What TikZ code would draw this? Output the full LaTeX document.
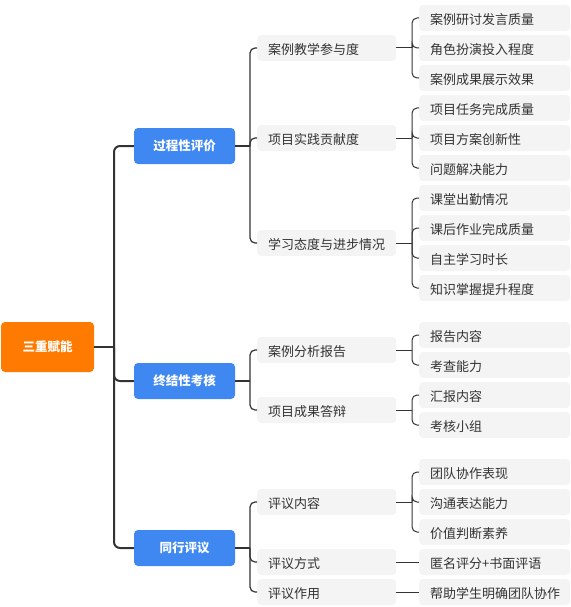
\documentclass[tikz,border=0pt]{standalone}
\usepackage{fontspec}
\setmainfont{Noto Sans CJK SC}
\definecolor{orangeC}{HTML}{FF7A00}
\definecolor{blueC}{HTML}{3F88F2}
\definecolor{grayC}{HTML}{F4F4F4}
\definecolor{txtC}{HTML}{333333}
\definecolor{lineC}{HTML}{333333}
\begin{document}
\begin{tikzpicture}[x=1pt,y=-1pt,
  base/.style={rounded corners=4pt, inner sep=0pt, font=\fontsize{13}{15}\selectfont},
  rootbox/.style={base, fill=orangeC, text=white, minimum width=93pt, minimum height=50pt, font=\fontsize{12.5}{15}\selectfont\bfseries},
  lonebox/.style={base, fill=blueC, text=white, minimum width=101pt, minimum height=36pt, font=\fontsize{12.5}{15}\selectfont\bfseries},
  ltwobox/.style={base, fill=grayC, text=txtC, anchor=west, minimum height=26pt, inner xsep=11pt, text width=117pt, align=left, text height=13.5pt, text depth=0pt},
  lthreebox/.style={base, fill=grayC, text=txtC, anchor=west, minimum height=26pt, inner xsep=11pt, text width=129pt, align=left, text height=13.5pt, text depth=0pt},
  trunk/.style={draw=lineC, line width=2pt, rounded corners=6pt},
  branch/.style={draw=lineC, line width=1.2pt, rounded corners=5pt},
  twig/.style={draw=lineC, line width=1pt, rounded corners=5pt}]
\useasboundingbox (0,0) rectangle (570,607);

% root
\node[rootbox] (root) at (47.5,347) {三重赋能};
% level 1
\node[lonebox] (pa) at (184.5,146) {过程性评价};
\node[lonebox] (pb) at (184.5,381) {终结性考核};
\node[lonebox] (pc) at (184.5,548) {同行评议};
% level 2
\node[ltwobox] (a1) at (257,48) {案例教学参与度};
\node[ltwobox] (a2) at (257,138) {项目实践贡献度};
\node[ltwobox] (a3) at (257,243) {学习态度与进步情况};
\node[ltwobox] (b1) at (257,350) {案例分析报告};
\node[ltwobox] (b2) at (257,410) {项目成果答辩};
\node[ltwobox] (c1) at (257,502) {评议内容};
\node[ltwobox] (c2) at (257,562) {评议方式};
\node[ltwobox] (c3) at (257,592) {评议作用};
% level 3
\node[lthreebox] (a11) at (419,18) {案例研讨发言质量};
\node[lthreebox] (a12) at (419,48) {角色扮演投入程度};
\node[lthreebox] (a13) at (419,78) {案例成果展示效果};
\node[lthreebox] (a21) at (419,108) {项目任务完成质量};
\node[lthreebox] (a22) at (419,138) {项目方案创新性};
\node[lthreebox] (a23) at (419,168) {问题解决能力};
\node[lthreebox] (a31) at (419,198) {课堂出勤情况};
\node[lthreebox] (a32) at (419,228) {课后作业完成质量};
\node[lthreebox] (a33) at (419,258) {自主学习时长};
\node[lthreebox] (a34) at (419,288) {知识掌握提升程度};
\node[lthreebox] (b11) at (419,335) {报告内容};
\node[lthreebox] (b12) at (419,365) {考查能力};
\node[lthreebox] (b21) at (419,395) {汇报内容};
\node[lthreebox] (b22) at (419,425) {考核小组};
\node[lthreebox] (c11) at (419,472) {团队协作表现};
\node[lthreebox] (c12) at (419,502) {沟通表达能力};
\node[lthreebox] (c13) at (419,532) {价值判断素养};
\node[lthreebox] (c21) at (419,562) {匿名评分+书面评语};
\node[lthreebox] (c31) at (419,592) {帮助学生明确团队协作};

% junctions
\coordinate (j0) at (114,347);
\coordinate (ja) at (250,146);
\coordinate (jb) at (250,381);
\coordinate (jc) at (250,548);
\coordinate (ja1) at (412,48);
\coordinate (ja2) at (412,138);
\coordinate (ja3) at (412,243);
\coordinate (jb1) at (412,350);
\coordinate (jb2) at (412,410);
\coordinate (jc1) at (412,502);

% trunk
\draw[trunk] (root.east) -- (j0);
\draw[trunk] (j0) |- (pa.west);
\draw[trunk] (j0) |- (pb.west);
\draw[trunk] (j0) |- (pc.west);
% level 1 -> level 2
\draw[branch] (pa.east) -- (ja);
\draw[branch] (ja) |- (a1.west);
\draw[branch] (ja) |- (a2.west);
\draw[branch] (ja) |- (a3.west);
\draw[branch] (pb.east) -- (jb);
\draw[branch] (jb) |- (b1.west);
\draw[branch] (jb) |- (b2.west);
\draw[branch] (pc.east) -- (jc);
\draw[branch] (jc) |- (c1.west);
\draw[branch] (jc) |- (c2.west);
\draw[branch] (jc) |- (c3.west);
% level 2 -> level 3
\draw[twig] (a1.east) -- (ja1);
\draw[twig] (ja1) |- (a11.west);
\draw[twig] (ja1) |- (a12.west);
\draw[twig] (ja1) |- (a13.west);
\draw[twig] (a2.east) -- (ja2);
\draw[twig] (ja2) |- (a21.west);
\draw[twig] (ja2) |- (a22.west);
\draw[twig] (ja2) |- (a23.west);
\draw[twig] (a3.east) -- (ja3);
\draw[twig] (ja3) |- (a31.west);
\draw[twig] (ja3) |- (a32.west);
\draw[twig] (ja3) |- (a33.west);
\draw[twig] (ja3) |- (a34.west);
\draw[twig] (b1.east) -- (jb1);
\draw[twig] (jb1) |- (b11.west);
\draw[twig] (jb1) |- (b12.west);
\draw[twig] (b2.east) -- (jb2);
\draw[twig] (jb2) |- (b21.west);
\draw[twig] (jb2) |- (b22.west);
\draw[twig] (c1.east) -- (jc1);
\draw[twig] (jc1) |- (c11.west);
\draw[twig] (jc1) |- (c12.west);
\draw[twig] (jc1) |- (c13.west);
\draw[twig] (c2.east) -- (c21.west);
\draw[twig] (c3.east) -- (c31.west);
\end{tikzpicture}
\end{document}
